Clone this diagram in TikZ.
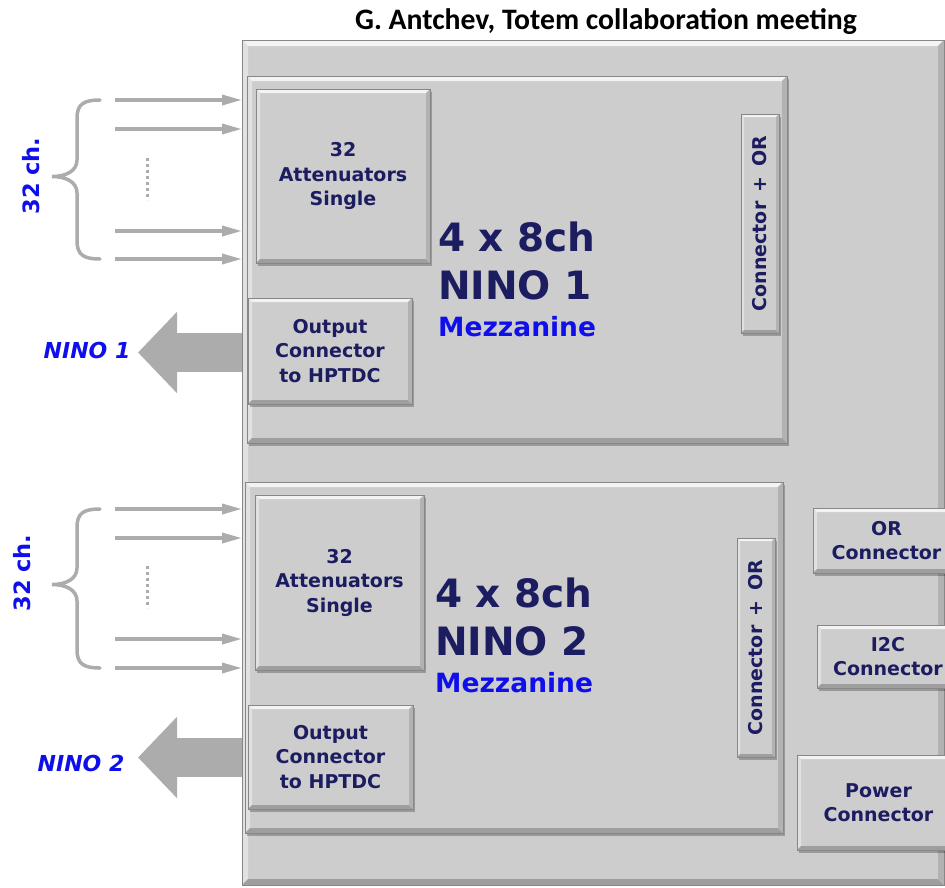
\documentclass[tikz,border=0pt]{standalone}
\usepackage{fontspec}
\setmainfont{DejaVu Sans}[BoldFont={DejaVu Sans Bold},ItalicFont={DejaVu Sans Oblique},BoldItalicFont={DejaVu Sans Bold Oblique}]
\newfontfamily\titlefont{Carlito}
\usetikzlibrary{arrows.meta,shadows}
\definecolor{boxgray}{RGB}{205,205,205}
\definecolor{edgegray}{RGB}{135,135,135}
\definecolor{hilite}{RGB}{243,243,243}
\definecolor{hilitetwo}{RGB}{225,225,225}
\definecolor{shadeone}{RGB}{158,158,158}
\definecolor{shadetwo}{RGB}{178,178,178}
\definecolor{navy}{RGB}{28,28,96}
\definecolor{txtblue}{RGB}{15,15,235}
\definecolor{wire}{RGB}{172,172,172}
\newcommand\bevelpic[1]{%
  \coordinate (bA) at (path picture bounding box.north west);
  \coordinate (bB) at (path picture bounding box.north east);
  \coordinate (bC) at (path picture bounding box.south east);
  \coordinate (bD) at (path picture bounding box.south west);
  \fill[hilite] (bA) -- (bB) -- ([xshift=-#1,yshift=-#1]bB) -- ([xshift=#1,yshift=-#1]bA) -- cycle;
  \fill[hilitetwo] (bA) -- ([xshift=#1,yshift=-#1]bA) -- ([xshift=#1,yshift=#1]bD) -- (bD) -- cycle;
  \fill[shadeone] (bD) -- ([xshift=#1,yshift=#1]bD) -- ([xshift=-#1,yshift=#1]bC) -- (bC) -- cycle;
  \fill[shadetwo] (bB) -- ([xshift=-#1,yshift=-#1]bB) -- ([xshift=-#1,yshift=#1]bC) -- (bC) -- cycle;
}
\tikzset{
  bevel/.style={fill=boxgray, draw=edgegray, line width=0.8pt, inner sep=0pt, outer sep=0pt,
    path picture={\bevelpic{#1}}},
  bevel/.default=4pt,
  softshadow/.style={drop shadow={shadow xshift=2pt, shadow yshift=-2.5pt, opacity=0.25, fill=black}},
  boxtext/.style={font=\fontsize{19}{24.5}\selectfont\bfseries, text=navy, align=center},
  bigtext/.style={font=\fontsize{39}{40}\selectfont\bfseries, text=navy, anchor=base west, inner sep=0pt},
  meztext/.style={font=\fontsize{26.5}{28}\selectfont\bfseries, text=txtblue, anchor=base west, inner sep=0pt},
  chlabel/.style={font=\fontsize{22.5}{24}\selectfont\bfseries, text=txtblue, rotate=90, inner sep=0pt},
  ninolabel/.style={font=\fontsize{22}{26}\selectfont\bfseries\itshape, text=txtblue, inner sep=0pt},
  inwire/.style={draw=wire, line width=3.5pt, -{Triangle[length=20pt,width=10pt]}},
  bracewire/.style={draw=wire, line width=3.5pt, line cap=round},
  dotwire/.style={draw=wire, line width=3pt, dash pattern=on 3pt off 3pt},
  bigarrow/.style={draw=wire, line width=39pt, -{Triangle[length=39pt,width=79pt]}},
}
\begin{document}
\begin{tikzpicture}[x=1pt,y=-1pt]
\useasboundingbox (0,0) rectangle (945,887);
\fill[white] (0,0) rectangle (945,887);

% title
\node[font=\titlefont\fontsize{29.7}{34}\selectfont\bfseries, anchor=base, inner sep=0pt] (title) at (606,29) {G. Antchev, Totem collaboration meeting};

% main board
\node[bevel=6pt, minimum width=702pt, minimum height=845pt] (board) at (593,462.5) {};

% mezzanines
\node[bevel=5pt, softshadow, minimum width=540pt, minimum height=367pt] (mezz1) at (517,259.5) {};
\node[bevel=5pt, softshadow, minimum width=538pt, minimum height=351pt] (mezz2) at (514,657.5) {};

% inner boxes, mezzanine 1
\node[bevel, softshadow, boxtext, minimum width=174pt, minimum height=174pt] (att1) at (343,176) {32\\Attenuators\\Single};
\node[bevel, softshadow, boxtext, minimum width=164pt, minimum height=106pt] (out1) at (330,351) {Output\\Connector\\to HPTDC};
\node[bevel=3pt, softshadow, minimum width=38pt, minimum height=219pt] (con1) at (760,223.5) {};
\node[boxtext, rotate=90] (con1t) at (con1.center) {Connector\hspace{3pt} + \hspace{3pt}OR};

% inner boxes, mezzanine 2
\node[bevel, softshadow, boxtext, minimum width=169pt, minimum height=175pt] (att2) at (339.5,582.5) {32\\Attenuators\\Single};
\node[bevel, softshadow, boxtext, minimum width=165pt, minimum height=104pt] (out2) at (330.5,757) {Output\\Connector\\to HPTDC};
\node[bevel=3pt, softshadow, minimum width=38pt, minimum height=219pt] (con2) at (756,647.5) {};
\node[boxtext, rotate=90] (con2t) at (con2.center) {Connector\hspace{3pt} + \hspace{3pt}OR};

% board connectors (running past the board's right edge)
\node[bevel, softshadow, boxtext, minimum width=147pt, minimum height=65pt] (orc) at (886.5,540.5) {OR\\Connector};
\node[bevel, softshadow, boxtext, minimum width=142pt, minimum height=63pt] (i2c) at (888,656.5) {I2C\\Connector};
\node[bevel, softshadow, boxtext, minimum width=163pt, minimum height=95pt] (pwr) at (878.5,802.5) {Power\\Connector};

% mezzanine titles
\node[bigtext] (m1a) at (438,251) {4 x 8ch};
\node[bigtext] (m1b) at (438,299) {NINO 1};
\node[meztext] (m1c) at (438,336) {Mezzanine};
\node[bigtext] (m2a) at (435,607) {4 x 8ch};
\node[bigtext] (m2b) at (435,655) {NINO 2};
\node[meztext] (m2c) at (435,692) {Mezzanine};

% output arrows
\node[ninolabel] (n1) at (87,350) {NINO 1};
\node[ninolabel] (n2) at (81,763) {NINO 2};
\coordinate (o1s) at (board.west |- 0,352.5);
\coordinate (o1t) at (138,352.5);
\coordinate (o2s) at (board.west |- 0,757.5);
\coordinate (o2t) at (138,757.5);
\draw[bigarrow] (o1s) -- (o1t);
\draw[bigarrow] (o2s) -- (o2t);

% inputs, mezzanine 1
\node[chlabel] (ch1) at (31,176) {32 ch.};
\foreach \yy/\nm in {100/a,129/b,231/c,259/d}{
  \coordinate (i1\nm) at (115,\yy);
  \draw[inwire] (i1\nm) -- (board.west |- i1\nm);
}
\draw[bracewire] (100,100) .. controls (84,100) and (77,104) .. (77,118) -- (77,160)
  .. controls (77,171) and (66,176.5) .. (52,176.5)
  .. controls (66,176.5) and (77,182) .. (77,193) -- (77,241)
  .. controls (77,255) and (84,259) .. (100,259);
\draw[dotwire] (147,158) -- (147,200);

% inputs, mezzanine 2
\node[chlabel] (ch2) at (22,573) {32 ch.};
\foreach \yy/\nm in {509/a,538/b,639/c,668/d}{
  \coordinate (i2\nm) at (115,\yy);
  \draw[inwire] (i2\nm) -- (board.west |- i2\nm);
}
\draw[bracewire] (100,509) .. controls (84,509) and (77,513) .. (77,527) -- (77,568)
  .. controls (77,579) and (66,584.5) .. (52,584.5)
  .. controls (66,584.5) and (77,590) .. (77,601) -- (77,650)
  .. controls (77,664) and (84,668) .. (100,668);
\draw[dotwire] (147,566) -- (147,608);
\end{tikzpicture}
\end{document}
